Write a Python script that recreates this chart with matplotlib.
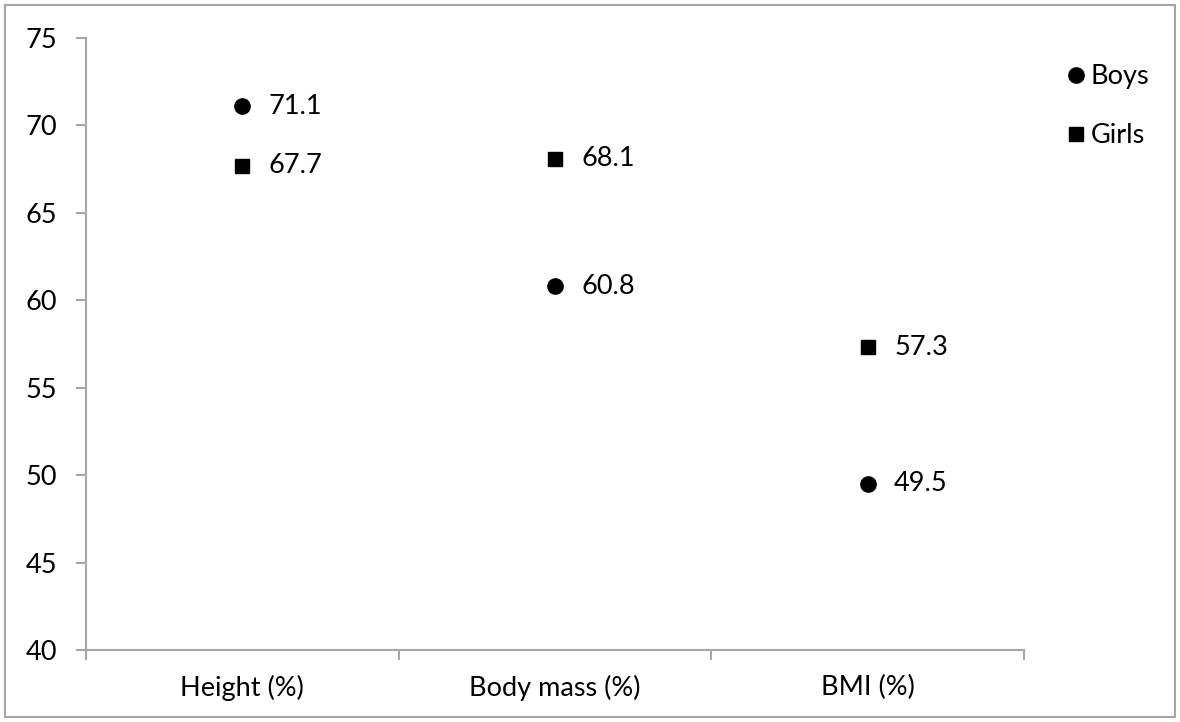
import matplotlib.pyplot as plt
from matplotlib.patches import Rectangle

plt.rcParams['font.family'] = ['Lato', 'DejaVu Sans']

categories = ['Height (%)', 'Body mass (%)', 'BMI (%)']
boys = [71.1, 60.8, 49.5]
girls = [67.7, 68.1, 57.3]

grey = '#a6a6a6'
fs = 19.5
fig = plt.figure(figsize=(11.8, 7.22), dpi=100)
ax = fig.add_axes([86 / 1180, 1 - 650 / 722, (1024 - 86) / 1180, (650 - 38) / 722])

x = range(len(categories))
ax.plot(x, boys, 'o', color='black', markersize=11, label='Boys', linestyle='none')
ax.plot(x, girls, 's', color='black', markersize=10, label='Girls', linestyle='none')

for i in x:
    ax.annotate(f'{boys[i]:.1f}', (i, boys[i]), xytext=(19, 0), textcoords='offset points',
                va='center', ha='left', fontsize=fs)
    ax.annotate(f'{girls[i]:.1f}', (i, girls[i]), xytext=(19, 0), textcoords='offset points',
                va='center', ha='left', fontsize=fs)

ax.set_xlim(-0.5, 2.5)
ax.set_ylim(40, 75)
ax.set_yticks(range(40, 76, 5))
ax.set_xticks(list(x))
ax.set_xticklabels(categories, fontsize=fs)
ax.set_xticks([-0.5, 0.5, 1.5, 2.5], minor=True)
ax.tick_params(axis='x', which='major', length=0, pad=18)
ax.tick_params(axis='x', which='minor', length=7, width=1.5, color=grey, direction='out')
ax.tick_params(axis='y', length=7, width=1.5, color=grey, labelsize=fs, pad=14)
for s in ['top', 'right']:
    ax.spines[s].set_visible(False)
for s in ['left', 'bottom']:
    ax.spines[s].set_color(grey)
    ax.spines[s].set_linewidth(1.5)

fig.legend(loc='upper left', bbox_to_anchor=(1043 / 1180, 1 - 40 / 722), frameon=False,
           fontsize=fs, handlelength=0.6, handletextpad=0.25, labelspacing=1.25)

fig.patches.append(Rectangle((5 / 1180, 5 / 722), 1170 / 1180, 712 / 722, transform=fig.transFigure,
                             fill=False, edgecolor=grey, linewidth=1.5))

fig.savefig('out.png', dpi=100)
